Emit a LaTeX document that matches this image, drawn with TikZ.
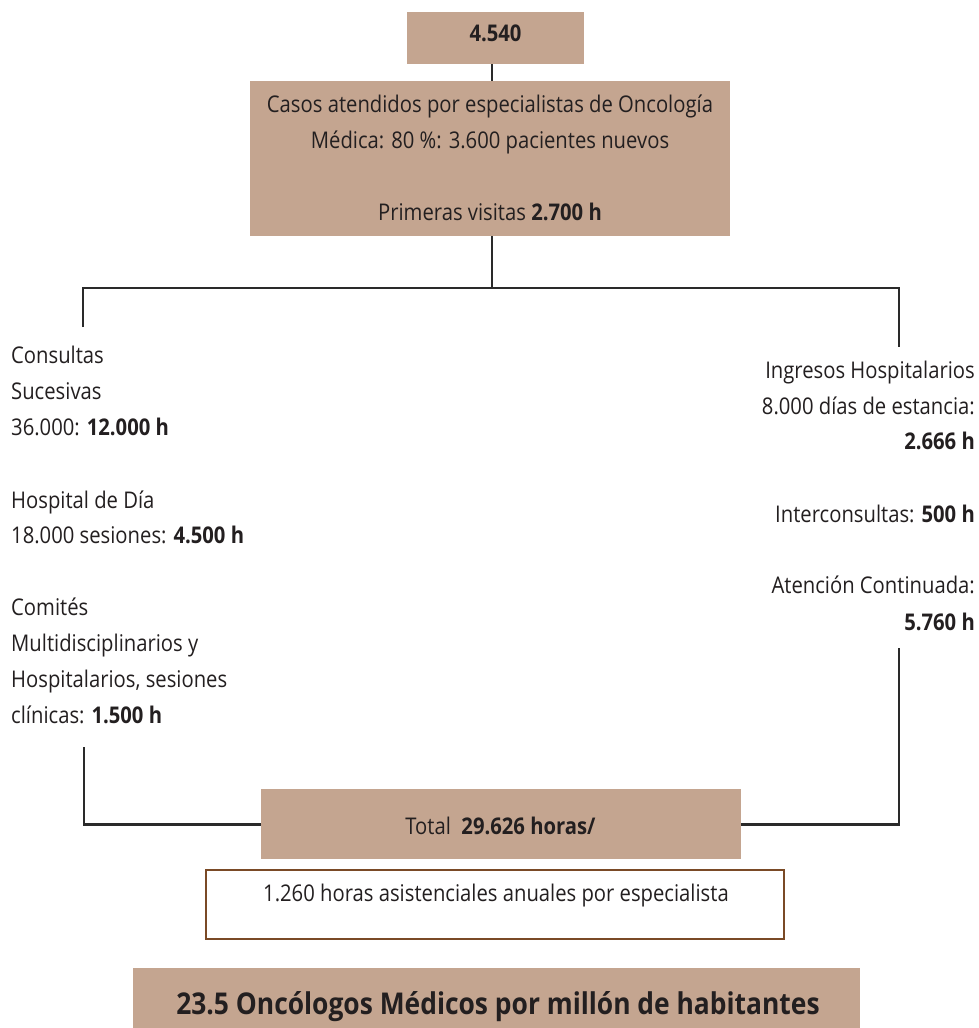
\documentclass[tikz,border=0pt]{standalone}
\usepackage{fontspec}
\setmainfont{Open Sans}[FakeStretch=0.88]
\definecolor{boxfill}{HTML}{C4A590}
\definecolor{ink}{HTML}{231F20}
\definecolor{linegray}{HTML}{2A2A2A}
\definecolor{framebrown}{HTML}{7A4A26}
\begin{document}
\begin{tikzpicture}[x=1pt,y=-1pt,
  tanbox/.style={fill=boxfill,draw=none,inner sep=0pt,anchor=north west},
  whitebox/.style={fill=white,draw=framebrown,line width=1.6pt,inner sep=0pt,anchor=north west},
  txt/.style={inner sep=0pt,text=ink,font=\fontsize{23}{28}\selectfont},
  lt/.style={txt,anchor=base west},
  rt/.style={txt,anchor=base east},
  ct/.style={txt,anchor=base},
  conn/.style={draw=linegray,line width=2.8pt}]
\fill[white] (0,0) rectangle (979,1028);
\useasboundingbox (0,0) rectangle (979,1028);
% boxes
\node[tanbox,minimum width=177pt,minimum height=52pt] (n4540) at (407,12) {};
\node[tanbox,minimum width=480pt,minimum height=155pt] (casos) at (250,81) {};
\node[tanbox,minimum width=480pt,minimum height=70pt] (total) at (261,789) {};
\node[whitebox,minimum width=578pt,minimum height=69pt] (anual) at (205,869) {};
\node[tanbox,minimum width=727pt,minimum height=60pt] (ratio) at (133,968) {};
% box texts
\node[ct] (t4540) at (495.5,41) {\bfseries 4.540};
\node[ct] (tc1) at (490,112) {Casos atendidos por especialistas de Oncología};
\node[ct] (tc2) at (490,148) {Médica: 80 \%: 3.600 pacientes nuevos};
\node[ct] (tc3) at (490,220) {Primeras visitas \textbf{2.700 h}};
\node[ct] (ttotal) at (500.5,834) {Total\ \ \textbf{29.626 horas/}};
\node[ct] (tanual) at (496,901) {1.260 horas asistenciales anuales por especialista};
\node[ct,font=\fontsize{30}{34}\selectfont\bfseries] (tratio) at (498,1014) {23.5 Oncólogos Médicos por millón de habitantes};
% left column
\node[lt] (l1) at (11,363) {Consultas};
\node[lt] (l2) at (11,399) {Sucesivas};
\node[lt] (l3) at (11,435) {36.000: \textbf{12.000 h}};
\node[lt] (l4) at (11,508) {Hospital de Día};
\node[lt] (l5) at (11,543) {18.000 sesiones: \textbf{4.500 h}};
\node[lt] (l6) at (11,615) {Comités};
\node[lt] (l7) at (11,651) {Multidisciplinarios y};
\node[lt] (l8) at (11,687) {Hospitalarios, sesiones};
\node[lt] (l9) at (11,723) {clínicas: \textbf{1.500 h}};
% right column
\node[rt] (r1) at (975,378) {Ingresos Hospitalarios};
\node[rt] (r2) at (975,414) {8.000 días de estancia:};
\node[rt] (r3) at (975,449) {\textbf{2.666 h}};
\node[rt] (r4) at (975,522) {Interconsultas: \textbf{500 h}};
\node[rt] (r5) at (975,593) {Atención Continuada:};
\node[rt] (r6) at (975,630) {\textbf{5.760 h}};
% connectors
\coordinate (hub) at (492,288);
\coordinate (lstub) at (83,327);
\coordinate (rstub) at (899,347);
\coordinate (lbot) at (84,747);
\coordinate (rbot) at (899,648);
\draw[conn] (n4540.south -| hub) -- (casos.north -| hub);
\draw[conn] (casos.south -| hub) -- (hub);
\draw[conn] (lstub) |- (hub) -| (rstub);
\draw[conn] (lbot) |- (total.west);
\draw[conn] (rbot) |- (total.east);
\end{tikzpicture}
\end{document}
